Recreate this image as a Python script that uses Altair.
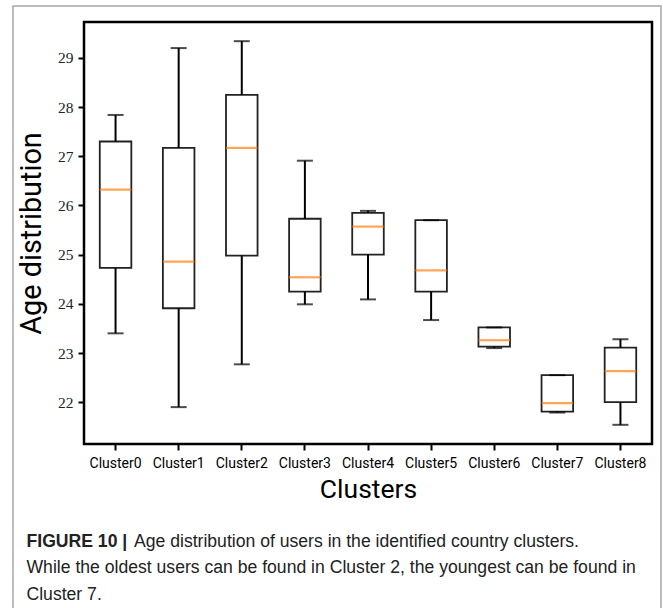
import altair as alt
import pandas as pd

# ---- data ----
clusters = ["Cluster0", "Cluster1", "Cluster2", "Cluster3", "Cluster4",
            "Cluster5", "Cluster6", "Cluster7", "Cluster8"]
whisker_low = [23.40, 21.90, 22.77, 23.99, 24.09, 23.67, 23.10, 21.79, 21.54]
q1 = [24.73, 23.91, 24.98, 24.25, 25.00, 24.25, 23.13, 21.81, 22.00]
median = [26.32, 24.86, 27.17, 24.54, 25.57, 24.68, 23.26, 21.98, 22.63]
q3 = [27.30, 27.17, 28.25, 25.73, 25.85, 25.70, 23.52, 22.55, 23.11]
whisker_high = [27.84, 29.20, 29.34, 26.91, 25.89, 25.70, 23.52, 22.55, 23.28]

y_ticks = [22, 23, 24, 25, 26, 27, 28, 29]
y_domain = [21.15, 29.73]

x_title = "Clusters"
y_title = "Age distribution"

caption_bold = "FIGURE 10 |"
caption_line1 = "Age distribution of users in the identified country clusters."
caption_line2 = "While the oldest users can be found in Cluster 2, the youngest can be found in"
caption_line3 = "Cluster 7."

df = pd.DataFrame({
    "cluster": clusters,
    "low": whisker_low,
    "q1": q1,
    "median": median,
    "q3": q3,
    "high": whisker_high,
})

W, H = 568, 422

x_enc = alt.X(
    "cluster:N",
    sort=clusters,
    scale=alt.Scale(paddingInner=0, paddingOuter=0),
    axis=alt.Axis(
        title=x_title, labelAngle=0, domain=False, ticks=True,
        tickSize=6, tickWidth=2, tickColor="black",
        labelFont="Roboto", labelFontSize=14, labelColor="black", labelPadding=6,
        titleFont="Roboto", titleFontSize=26.5, titleFontWeight="normal",
        titleColor="black", titleY=53, titleBaseline="alphabetic",
    ),
)
y_scale = alt.Scale(domain=y_domain, nice=False, zero=False)
y_axis = alt.Axis(
    title=y_title, values=y_ticks, format="d", grid=False, domain=False,
    tickSize=6, tickWidth=2, tickColor="black",
    labelFont="Liberation Serif, Times New Roman, DejaVu Serif, serif",
    labelFontSize=15.5, labelColor="#222",
    labelPadding=5,
    titleFont="Roboto", titleFontSize=28.8, titleFontWeight="normal",
    titleColor="black", titleX=-44, titleY=H / 2, titleAngle=270,
    titleBaseline="alphabetic", titleAlign="center",
)

base = alt.Chart(df)

boxes = base.mark_bar(
    width=alt.RelativeBandSize(0.5), fill="white", stroke="#222", strokeWidth=1.8
).encode(
    x=x_enc,
    y=alt.Y("q1:Q", scale=y_scale, axis=y_axis),
    y2="q3:Q",
)

lower_whisker = base.mark_rule(color="black", strokeWidth=2).encode(
    x=alt.X("cluster:N", sort=clusters), y="low:Q", y2="q1:Q"
)
upper_whisker = base.mark_rule(color="black", strokeWidth=2).encode(
    x=alt.X("cluster:N", sort=clusters), y="q3:Q", y2="high:Q"
)
low_cap = base.mark_tick(color="black", size=16, thickness=2).encode(
    x=alt.X("cluster:N", sort=clusters), y="low:Q"
)
high_cap = base.mark_tick(color="black", size=16, thickness=2).encode(
    x=alt.X("cluster:N", sort=clusters), y="high:Q"
)
med = base.mark_tick(color="#ff7f0e", size=31.5, thickness=2.2).encode(
    x=alt.X("cluster:N", sort=clusters), y="median:Q"
)

# outer grey figure frame
frame = alt.Chart(pd.DataFrame({"a": [0]})).mark_rect(
    fillOpacity=0, stroke="#a8a8a8", strokeWidth=1.5
).encode(
    x=alt.value(-71), x2=alt.value(577), y=alt.value(-16), y2=alt.value(700)
)


def caption(s, x, y, bold=False):
    return alt.Chart(pd.DataFrame({"t": [s]})).mark_text(
        align="left", baseline="alphabetic", font="Liberation Sans",
        fontSize=17.6, fontWeight="bold" if bold else "normal", color="#222",
    ).encode(x=alt.value(x), y=alt.value(y), text="t:N")


cap_layers = [
    caption(caption_bold, -57.5, 524.7, bold=True),
    caption(caption_line1, 50, 524.7),
    caption(caption_line2, -57.5, 551),
    caption(caption_line3, -57.5, 578),
]

chart = alt.layer(
    frame, boxes, lower_whisker, upper_whisker, low_cap, high_cap, med, *cap_layers
).properties(
    width=W, height=H,
    autosize=alt.AutoSizeParams(type="none"),
    padding={"left": 84, "top": 22, "right": 11, "bottom": 164},
    background="white",
).configure_view(
    stroke="black", strokeWidth=2.5
)

chart.save("out.html", embed_options={"renderer": "svg", "actions": False})
